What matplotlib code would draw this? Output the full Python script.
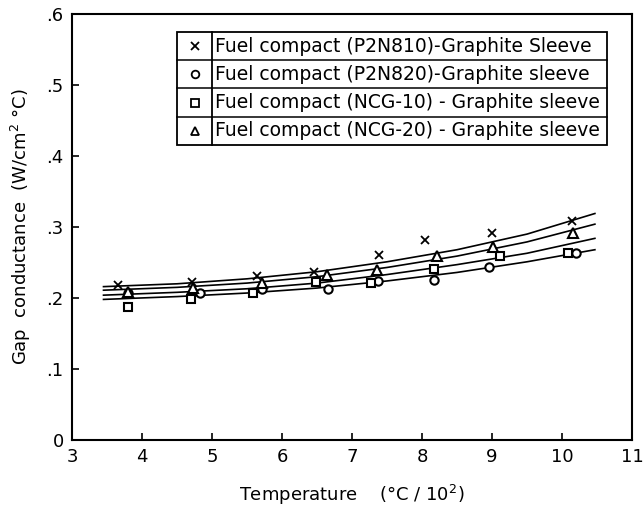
import matplotlib
matplotlib.use("Agg")
import matplotlib.pyplot as plt
from matplotlib.lines import Line2D
from matplotlib.patches import Rectangle

# measured points (temperature in 100 degC, gap conductance W/cm2 degC)
p2n810_x = [3.66, 4.72, 5.64, 6.45, 7.38, 8.04, 9.00, 10.14]
p2n810_y = [0.218, 0.223, 0.231, 0.237, 0.261, 0.282, 0.291, 0.309]
p2n820_x = [3.80, 4.83, 5.72, 6.65, 7.37, 8.17, 8.95, 10.20]
p2n820_y = [0.207, 0.207, 0.212, 0.212, 0.224, 0.226, 0.244, 0.263]
ncg10_x = [3.80, 4.70, 5.58, 6.49, 7.27, 8.17, 9.11, 10.08]
ncg10_y = [0.188, 0.198, 0.207, 0.223, 0.221, 0.241, 0.259, 0.263]
ncg20_x = [3.80, 4.73, 5.72, 6.64, 7.35, 8.21, 9.01, 10.16]
ncg20_y = [0.209, 0.214, 0.221, 0.232, 0.240, 0.259, 0.272, 0.292]

# fitted curves
curve_x = [3.45, 4.5, 5.5, 6.5, 7.5, 8.5, 9.5, 10.47]
curve_p2n810 = [0.216, 0.220, 0.227, 0.237, 0.251, 0.268, 0.290, 0.319]
curve_ncg20 = [0.211, 0.215, 0.221, 0.230, 0.243, 0.259, 0.279, 0.304]
curve_ncg10 = [0.204, 0.208, 0.213, 0.221, 0.233, 0.247, 0.263, 0.284]
curve_p2n820 = [0.198, 0.202, 0.207, 0.214, 0.224, 0.236, 0.251, 0.268]

legend_labels = [
    "Fuel compact (P2N810)-Graphite Sleeve",
    "Fuel compact (P2N820)-Graphite sleeve",
    "Fuel compact (NCG-10) - Graphite sleeve",
    "Fuel compact (NCG-20) - Graphite sleeve",
]
legend_markers = ["x", "o", "s", "^"]

x_ticks = [3, 4, 5, 6, 7, 8, 9, 10, 11]
y_ticks = [0, 0.1, 0.2, 0.3, 0.4, 0.5, 0.6]
y_tick_labels = ["0", ".1", ".2", ".3", ".4", ".5", ".6"]

W, H = 643, 511
fig = plt.figure(figsize=(W / 100, H / 100), dpi=100)
ax = fig.add_axes([72 / W, 1 - 440 / H, (632 - 72) / W, (440 - 14) / H])

for cy in [curve_p2n810, curve_ncg20, curve_ncg10, curve_p2n820]:
    ax.plot(curve_x, cy, color="black", lw=1.2, zorder=2)

mk = dict(color="black", linestyle="none", zorder=3)
ax.plot(p2n810_x, p2n810_y, marker="x", ms=6, mew=1.3, **mk)
ax.plot(p2n820_x, p2n820_y, marker="o", ms=6, mew=1.5, mfc="white", **mk)
ax.plot(ncg10_x, ncg10_y, marker="s", ms=6, mew=1.5, mfc="white", **mk)
ax.plot(ncg20_x, ncg20_y, marker="^", ms=6.5, mew=1.5, mfc="white", **mk)

ax.set_xlim(3, 11)
ax.set_ylim(0, 0.6)
ax.set_xticks(x_ticks)
ax.set_yticks(y_ticks)
ax.set_yticklabels(y_tick_labels)
ax.tick_params(direction="in", length=5, width=1.2, labelsize=13, top=False, right=False)
ax.tick_params(axis="x", pad=6)
ax.tick_params(axis="y", pad=6)
for s in ax.spines.values():
    s.set_linewidth(1.5)

ax.set_xlabel("Temperature    (\u00b0C / 10$^2$)", fontsize=13, labelpad=12)
ax.set_ylabel("Gap  conductance  (W/cm$^2$ \u00b0C)", fontsize=13, labelpad=10)

# table style legend drawn in pixel coords of the figure
def px(x, y):
    return x / W, 1 - y / H

lx0, lx1, ldiv = 177, 607, 212
ly0, ly1 = 32, 145
row_h = (ly1 - ly0) / 4
fx, fy = px(lx0, ly1)
fig.add_artist(Rectangle((fx, fy), (lx1 - lx0) / W, (ly1 - ly0) / H,
                         transform=fig.transFigure, fill=True, fc="white",
                         ec="black", lw=1.3, zorder=5))
fig.add_artist(Line2D([ldiv / W, ldiv / W], [1 - ly0 / H, 1 - ly1 / H],
                      transform=fig.transFigure, color="black", lw=1.3, zorder=6))
for i, (lab, m) in enumerate(zip(legend_labels, legend_markers)):
    top = ly0 + i * row_h
    if i > 0:
        fig.add_artist(Line2D([lx0 / W, lx1 / W], [1 - top / H, 1 - top / H],
                              transform=fig.transFigure, color="black", lw=1.1, zorder=6))
    cy = 1 - (top + row_h / 2) / H
    fig.add_artist(Line2D([(lx0 + ldiv) / 2 / W], [cy], transform=fig.transFigure,
                          marker=m, ms=5.5, mew=1.3, color="black", mfc="white",
                          linestyle="none", zorder=7))
    fig.text((ldiv + 3) / W, cy, lab, fontsize=13.5, va="center", ha="left", zorder=7)

fig.savefig("out.png", dpi=100)
